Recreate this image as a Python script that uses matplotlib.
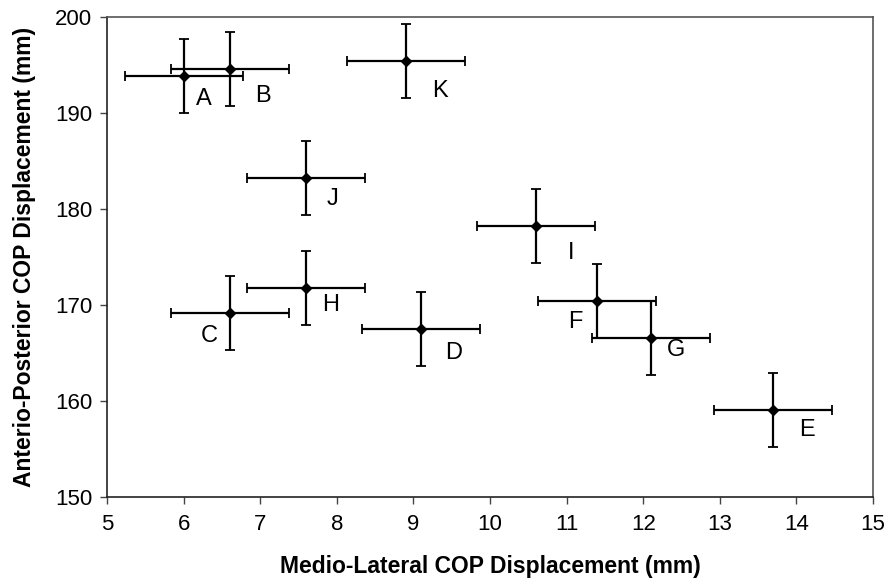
import matplotlib
matplotlib.use("Agg")
import matplotlib.pyplot as plt

plt.rcParams['font.family'] = ['Liberation Sans', 'DejaVu Sans']

# condition labels and mean COP displacement
labels = ['A', 'B', 'C', 'D', 'E', 'F', 'G', 'H', 'I', 'J', 'K']
ml_disp = [6.0, 6.6, 6.6, 9.1, 13.7, 11.4, 12.1, 7.6, 10.6, 7.6, 8.9]
ap_disp = [193.9, 194.6, 169.2, 167.5, 159.1, 170.4, 166.6, 171.8, 178.2, 183.2, 195.4]
ml_err = [0.77] * 11
ap_err = [3.85] * 11

# label offsets in pixels (dx, dy) relative to the point
label_off = {
    'A': (20, -23), 'B': (33, -27), 'C': (-20, -23), 'D': (33, -24),
    'E': (34, -20), 'F': (-22, -21), 'G': (25, -12), 'H': (24, -17),
    'I': (35, -27), 'J': (26, -21), 'K': (34, -30),
}

fig = plt.figure(figsize=(8.94, 5.81), dpi=100)
ax = fig.add_axes([0.1197, 0.1446, 0.8568, 0.8261])

ax.errorbar(ml_disp, ap_disp, xerr=ml_err, yerr=ap_err, fmt='D', color='black',
            markersize=5.5, elinewidth=1.6, capsize=3.5, capthick=1.3, ecolor='black')

for lab, x, y in zip(labels, ml_disp, ap_disp):
    dx, dy = label_off[lab]
    ax.annotate(lab, (x, y), xytext=(dx, dy), textcoords='offset pixels',
                ha='center', va='center', fontsize=17)

ax.set_xlim(5, 15)
ax.set_ylim(150, 200)
ax.set_xticks(range(5, 16))
ax.set_yticks(range(150, 201, 10))
ax.tick_params(direction='out', length=5, width=1, labelsize=16, color='#444444')
ax.tick_params(axis='x', pad=7.5)
ax.tick_params(axis='y', pad=5.5)

for side in ['left', 'bottom']:
    ax.spines[side].set_color('#222222')
for side in ['top', 'right']:
    ax.spines[side].set_color('#555555')
for s in ax.spines.values():
    s.set_linewidth(1.2)

ax.set_xlabel('Medio-Lateral COP Displacement (mm)', fontsize=16.5, fontweight='bold', labelpad=14)
ax.set_ylabel('Anterio-Posterior COP Displacement (mm)', fontsize=16.5, fontweight='bold', labelpad=14)

fig.savefig('out.png', dpi=100)
